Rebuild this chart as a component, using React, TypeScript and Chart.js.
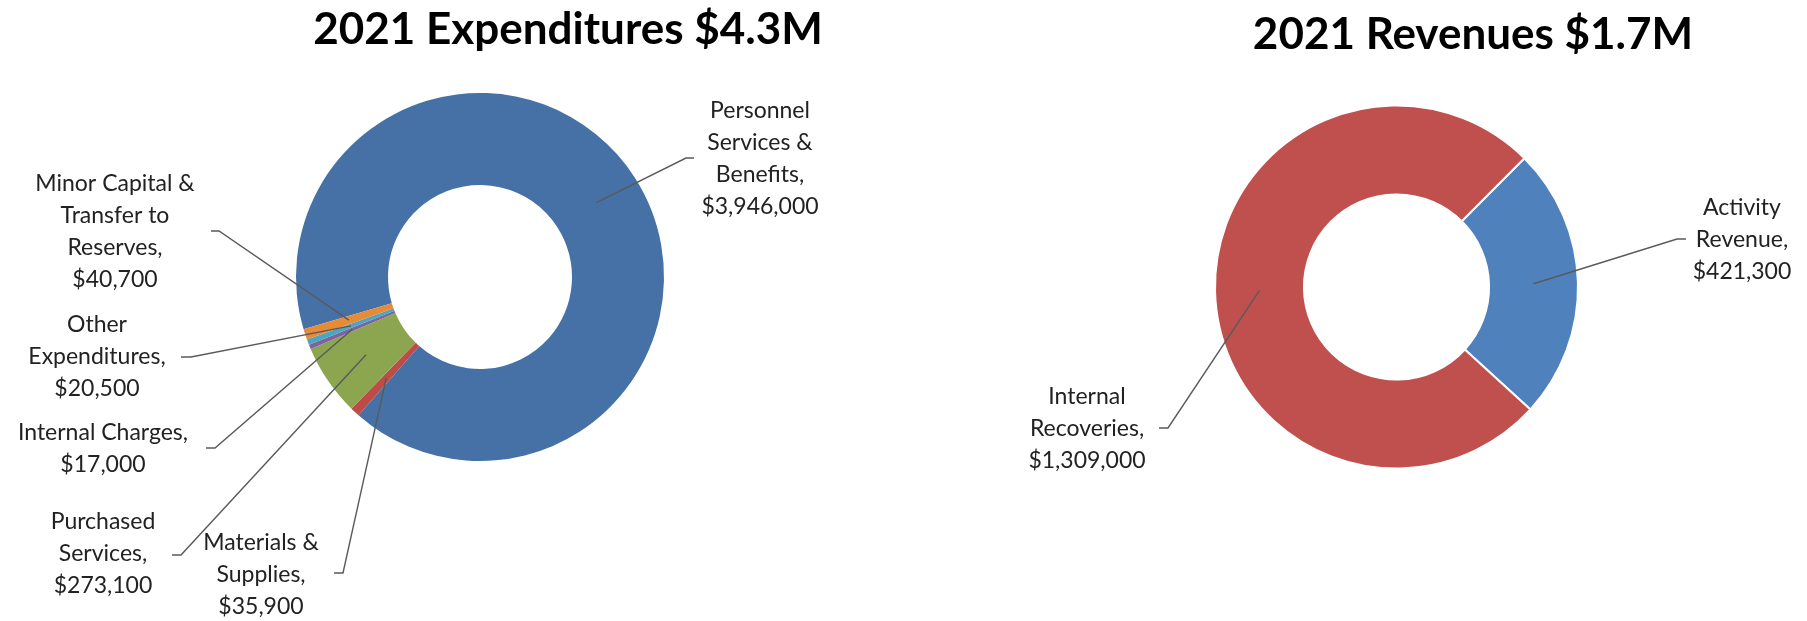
import React, { useEffect, useRef } from "react";
import { Chart, registerables } from "chart.js";

Chart.register(...registerables);

// ---------- Data ----------
const expenseCategories = [
  "Personnel\nServices &\nBenefits",
  "Materials &\nSupplies",
  "Purchased\nServices",
  "Internal Charges",
  "Other\nExpenditures",
  "Minor Capital &\nTransfer to\nReserves",
];
const expenseValues = [3946000, 35900, 273100, 17000, 20500, 40700];
const expenseColors = ["#4571A7", "#BE4B48", "#8CA64F", "#7E62A1", "#4AA7C2", "#E88B36"];
const expenseTitle = "2021 Expenditures $4.3M";

const revenueCategories = ["Activity\nRevenue", "Internal\nRecoveries"];
const revenueValues = [421300, 1309000];
const revenueColors = ["#4F81BD", "#C0504D"];
const revenueTitle = "2021 Revenues $1.7M";

// ---------- Layout (positions only) ----------
const LINE_H = 32;
const expenseLayout = {
  title: { x: 568, y: 30 },
  padding: { left: 296, right: 236, top: 93, bottom: 160 },
  rotation: 253.5,
  cutout: "50%",
  border: 0,
  labels: [
    { cx: 760, y0: 111, ax: 694, kx: 686, ay: 158 },
    { cx: 261, y0: 543, ax: 334, kx: 343, ay: 573 },
    { cx: 103, y0: 522, ax: 172, kx: 181, ay: 555 },
    { cx: 103, y0: 433, ax: 206, kx: 215, ay: 448 },
    { cx: 97, y0: 325, ax: 181, kx: 191, ay: 357 },
    { cx: 115, y0: 184, ax: 211, kx: 219, ay: 231 },
  ],
};
const revenueLayout = {
  title: { x: 573, y: 35 },
  padding: { left: 314, right: 228, top: 104, bottom: 151 },
  rotation: 44.8,
  cutout: "51%",
  border: 2,
  labels: [
    { cx: 842, y0: 208, ax: 786, kx: 777, ay: 239 },
    { cx: 187, y0: 397, ax: 259, kx: 268, ay: 428 },
  ],
};

function labelLines(cat: string, v: number): string[] {
  const parts = cat.split("\n");
  parts[parts.length - 1] = parts[parts.length - 1] + ",";
  parts.push("$" + v.toLocaleString("en-US"));
  return parts;
}

function makePlugin(title: string, cats: string[], vals: number[], layout: any) {
  return {
    id: "leaderLabels",
    afterDraw(chart: any) {
      const ctx = chart.ctx as CanvasRenderingContext2D;
      const meta = chart.getDatasetMeta(0);
      ctx.save();
      ctx.fillStyle = "#000";
      ctx.textAlign = "center";
      ctx.textBaseline = "middle";
      ctx.font = "bold 44px Lato";
      ctx.fillText(title, layout.title.x, layout.title.y);

      layout.labels.forEach((L: any, i: number) => {
        const arc = meta.data[i];
        const p = arc.getCenterPoint();
        ctx.strokeStyle = "#5a5a5a";
        ctx.lineWidth = 1.4;
        ctx.beginPath();
        ctx.moveTo(L.ax, L.ay);
        ctx.lineTo(L.kx, L.ay);
        ctx.lineTo(p.x, p.y);
        ctx.stroke();

        ctx.fillStyle = "#222";
        ctx.font = "23px Lato";
        const lines = labelLines(cats[i], vals[i]);
        lines.forEach((t, j) => ctx.fillText(t, L.cx, L.y0 + j * LINE_H));
      });
      ctx.restore();
    },
  };
}

function Donut(props: { width: number; left: number; title: string; cats: string[]; vals: number[]; colors: string[]; layout: any }) {
  const ref = useRef<HTMLCanvasElement>(null);
  useEffect(() => {
    const { title, cats, vals, colors, layout } = props;
    const chart = new Chart(ref.current as HTMLCanvasElement, {
      type: "doughnut",
      data: {
        labels: cats.map((c) => c.replace(/\n/g, " ")),
        datasets: [
          {
            data: vals,
            backgroundColor: colors,
            borderColor: "#ffffff",
            borderWidth: layout.border,
            hoverOffset: 0,
          },
        ],
      },
      options: {
        responsive: false,
        animation: false,
        devicePixelRatio: 1,
        rotation: layout.rotation,
        cutout: layout.cutout,
        layout: { padding: layout.padding },
        plugins: {
          legend: { display: false },
          title: { display: false },
          tooltip: { enabled: false },
        },
      },
      plugins: [makePlugin(title, cats, vals, layout)],
    });
    return () => chart.destroy();
  }, []);
  return (
    <canvas
      ref={ref}
      width={props.width}
      height={621}
      style={{ position: "absolute", left: props.left, top: 0, width: props.width, height: 621 }}
    />
  );
}

export default function App() {
  return (
    <div style={{ position: "absolute", left: 0, top: 0, width: 1807, height: 621, background: "#fff" }}>
      <Donut width={900} left={0} title={expenseTitle} cats={expenseCategories} vals={expenseValues} colors={expenseColors} layout={expenseLayout} />
      <Donut width={907} left={900} title={revenueTitle} cats={revenueCategories} vals={revenueValues} colors={revenueColors} layout={revenueLayout} />
    </div>
  );
}
